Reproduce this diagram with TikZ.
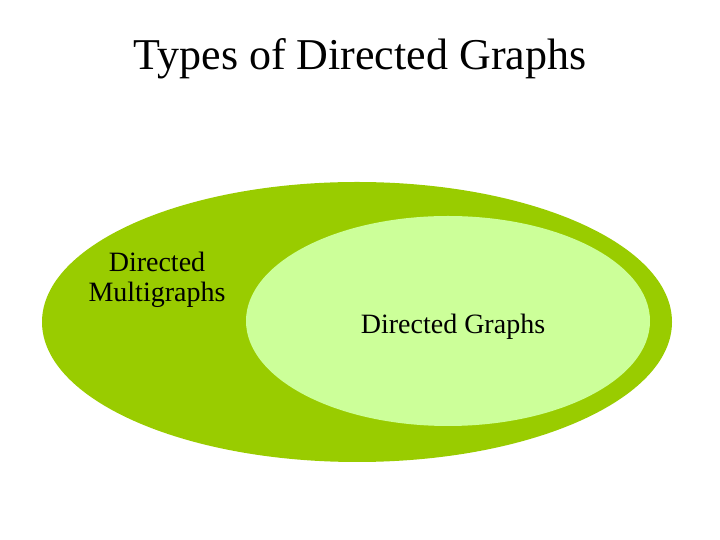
\documentclass[tikz,border=0pt]{standalone}
\usepackage{fontspec}
\setmainfont{Liberation Serif}
\usetikzlibrary{shapes.geometric,positioning}
\definecolor{outergreen}{HTML}{99CC00}
\definecolor{innergreen}{HTML}{CCFF99}
\tikzset{setbox/.style={ellipse,inner sep=0pt,draw=none}}

\begin{document}
\begin{tikzpicture}[x=1pt,y=1pt]
                    \useasboundingbox (0,0) rectangle (720,540);
                    \node[anchor=base] (title) at (360,470){\fontsize{44}{48}\selectfont Types of Directed Graphs};
                    \node[setbox,fill=outergreen,minimum width=630pt,minimum height=280pt] (multi) at (357,218){};
                    \node[setbox,fill=innergreen,minimum width=404pt,minimum height=210pt] (simple) at (448,219){};
                    \node[align=center,font=\fontsize{28}{30}\selectfont] (multilabel) at (157,260){Directed\\Multigraphs};
                    \node[font=\fontsize{28}{30}\selectfont] (simplelabel) at (453,213){Directed Graphs};
                \end{tikzpicture}
\end{document}
